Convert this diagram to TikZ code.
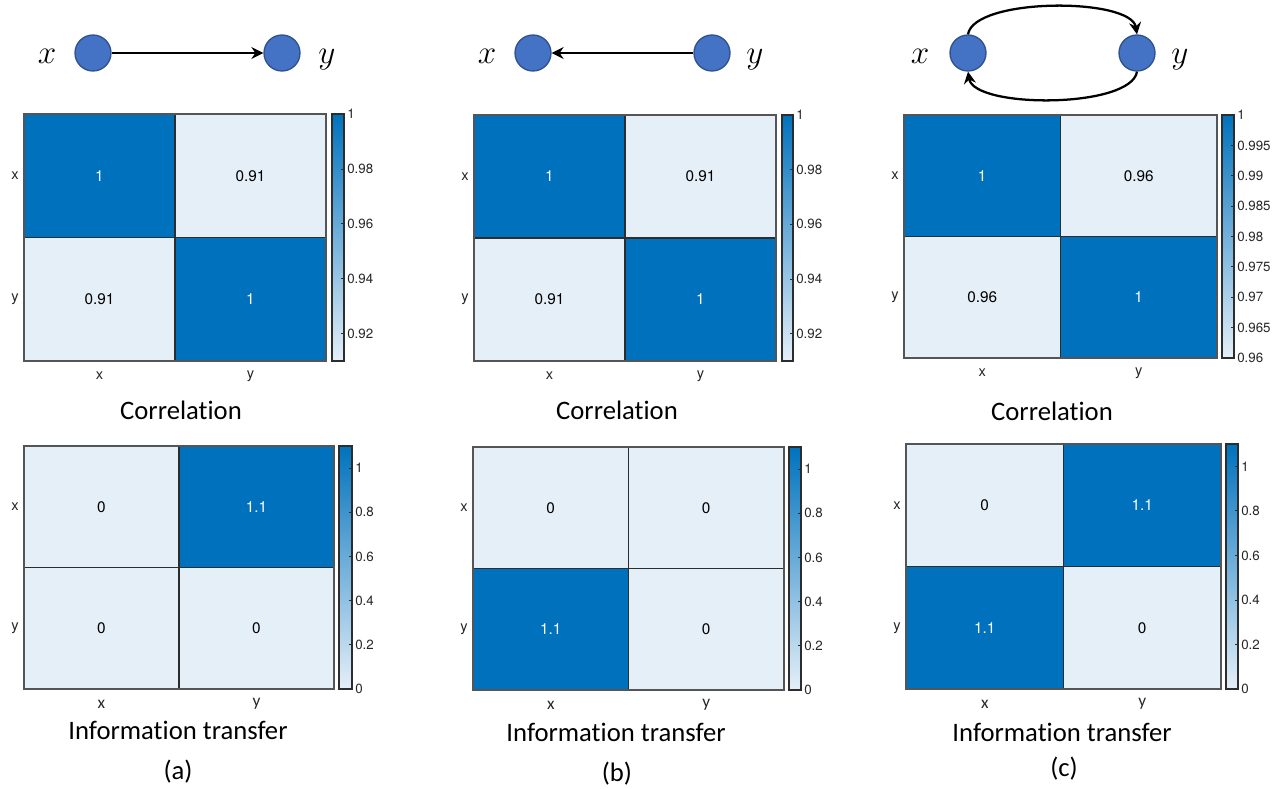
\documentclass[tikz,border=0pt]{standalone}
\usepackage{fontspec}
\newfontfamily\hvfont{TeX Gyre Heros}
\newfontfamily\cbfont[Ligatures=NoCommon]{Carlito}
\usetikzlibrary{arrows.meta}

\definecolor{hiblue}{RGB}{0,114,189}
\definecolor{loblue}{RGB}{229,239,248}
\definecolor{nodefill}{RGB}{68,114,196}
\definecolor{nodeline}{RGB}{47,82,143}
\definecolor{gridc}{RGB}{45,45,45}
\definecolor{framec}{RGB}{85,85,85}
\definecolor{labc}{RGB}{38,38,38}

\tikzset{
  vert/.style={circle, fill=nodefill, draw=nodeline, line width=1pt,
               minimum size=27pt, inner sep=0pt},
  varlab/.style={font=\fontsize{30}{30}\selectfont, inner sep=0pt, anchor=base},
  link/.style={line width=1.7pt, -{Stealth[length=9pt,width=9pt,inset=3pt]}},
  cellnum/.style={font=\hvfont\fontsize{11.5}{11.5}\selectfont, inner sep=0pt},
  hitxt/.style={cellnum, text=white},
  lotxt/.style={cellnum, text=black},
  hifill/.style={fill=hiblue},
  lofill/.style={fill=loblue},
  axlab/.style={font=\hvfont\fontsize{11}{11}\selectfont, text=labc, inner sep=0pt},
  axlabc/.style={font=\cbfont\fontsize{13}{13}\selectfont, text=labc, inner sep=0pt},
  ticklab/.style={font=\hvfont\fontsize{10}{10}\selectfont, text=labc,
                  anchor=west, inner sep=0pt},
  caption/.style={font=\cbfont\fontsize{20}{20}\selectfont, inner sep=0pt},
}

% heatmap frame: left, top, right, bottom (pixel-like units, y downwards)
\newcommand{\hmframe}[4]{%
  \def\hL{#1}\def\hT{#2}\def\hR{#3}\def\hB{#4}%
  \pgfmathsetmacro\hMx{(#1+#3)/2}\pgfmathsetmacro\hMy{(#2+#4)/2}%
  \pgfmathsetmacro\hQa{(3*#1+#3)/4}\pgfmathsetmacro\hQb{(#1+3*#3)/4}%
  \pgfmathsetmacro\hRa{(3*#2+#4)/4}\pgfmathsetmacro\hRb{(#2+3*#4)/4}}

% four cells: kind/text for (x,x) (x,y) (y,x) (y,y)
\newcommand{\hmcells}[8]{%
  \fill[#1fill] (\hL,\hT) rectangle (\hMx,\hMy);
  \fill[#3fill] (\hMx,\hT) rectangle (\hR,\hMy);
  \fill[#5fill] (\hL,\hMy) rectangle (\hMx,\hB);
  \fill[#7fill] (\hMx,\hMy) rectangle (\hR,\hB);
  \draw[gridc, line width=0.8pt] (\hMx,\hT) -- (\hMx,\hB) (\hL,\hMy) -- (\hR,\hMy);
  \draw[framec, line width=0.9pt] (\hL,\hT) rectangle (\hR,\hB);
  \node[#1txt] at (\hQa,\hRa) {#2};
  \node[#3txt] at (\hQb,\hRa) {#4};
  \node[#5txt] at (\hQa,\hRb) {#6};
  \node[#7txt] at (\hQb,\hRb) {#8};}

% axis labels; #1 = style of the labels under the map
\newcommand{\hmaxes}[1]{%
  \node[axlab] at (\hL-9,\hRa) {x};
  \node[axlab] at (\hL-9,\hRb) {y};
  \node[#1] at (\hQa,\hB+15) {x};
  \node[#1] at (\hQb,\hB+15) {y};}

% colour bar: x1, top, x2, bottom, vmin, vmax, list of value/label
\newcommand{\cbar}[7]{%
  \shade[bottom color=loblue, top color=hiblue] (#1,#2) rectangle (#3,#4);
  \draw[gridc, line width=1pt] (#1,#2) rectangle (#3,#4);
  \foreach \v/\lab in {#7} {
    \pgfmathsetmacro\yy{#4-(\v-#5)/(#6-#5)*(#4-#2)}
    \draw[gridc, line width=0.6pt] (#3,\yy) -- (#3-3,\yy);
    \node[ticklab] at (#3+3,\yy) {\lab};
  }}

\begin{document}
\begin{tikzpicture}[x=0.75pt, y=-0.75pt]
\useasboundingbox (0,0) rectangle (1286,789);

% ---------- panel (a): x -> y ----------
\node[varlab] (axl) at (47,63) {$x$};
\node[vert] (ax) at (93,53) {};
\node[vert] (ay) at (282,53) {};
\node[varlab] (ayl) at (327,63) {$y$};
\draw[link] (ax) -- (ay);

\hmframe{24}{114}{326}{361}
\hmcells{hi}{1}{lo}{0.91}{lo}{0.91}{hi}{1}
\hmaxes{axlab}
\cbar{332}{114}{344}{361}{0.91}{1}{0.92/0.92,0.94/0.94,0.96/0.96,0.98/0.98,1/1}
\node[caption] (acor) at (181,410) {Correlation};

\hmframe{24}{446}{334}{689}
\hmcells{lo}{0}{hi}{1.1}{lo}{0}{lo}{0}
\hmaxes{axlabc}
\cbar{339}{446}{352}{689}{0}{1.1}{0/0,0.2/0.2,0.4/0.4,0.6/0.6,0.8/0.8,1/1}
\node[caption] (ainf) at (178,730) {Information transfer};
\node[caption] (atag) at (178,772) {(a)};

% ---------- panel (b): y -> x ----------
\node[varlab] (bxl) at (487,63) {$x$};
\node[vert] (bx) at (533,53) {};
\node[vert] (by) at (712,53) {};
\node[varlab] (byl) at (755,63) {$y$};
\draw[link] (by) -- (bx);

\hmframe{474}{115}{776}{361}
\hmcells{hi}{1}{lo}{0.91}{lo}{0.91}{hi}{1}
\hmaxes{axlab}
\cbar{782}{115}{793}{361}{0.91}{1}{0.92/0.92,0.94/0.94,0.96/0.96,0.98/0.98,1/1}
\node[caption] (bcor) at (617,410) {Correlation};

\hmframe{473}{447}{784}{690}
\hmcells{lo}{0}{lo}{0}{hi}{1.1}{lo}{0}
\hmaxes{axlabc}
\cbar{789}{447}{801}{690}{0}{1.1}{0/0,0.2/0.2,0.4/0.4,0.6/0.6,0.8/0.8,1/1}
\node[caption] (binf) at (616,732) {Information transfer};
\node[caption] (btag) at (617,774) {(b)};

% ---------- panel (c): x <-> y ----------
\node[varlab] (cxl) at (920,63) {$x$};
\node[vert] (cx) at (968,53) {};
\node[vert] (cy) at (1137,53) {};
\node[varlab] (cyl) at (1180,63) {$y$};
\draw[link] (cx.north) .. controls +(6,-37) and +(-6,-37) .. (cy.north);
\draw[link] (cy.south) .. controls +(-6,37) and +(6,37) .. (cx.south);

\hmframe{904}{115}{1217}{358}
\hmcells{hi}{1}{lo}{0.96}{lo}{0.96}{hi}{1}
\hmaxes{axlab}
\cbar{1222}{115}{1234}{358}{0.96}{1}{0.96/0.96,0.965/0.965,0.97/0.97,0.975/0.975,0.98/0.98,0.985/0.985,0.99/0.99,0.995/0.995,1/1}
\node[caption] (ccor) at (1052,411) {Correlation};

\hmframe{906}{444}{1221}{689}
\hmcells{lo}{0}{hi}{1.1}{hi}{1.1}{lo}{0}
\hmaxes{axlabc}
\cbar{1226}{444}{1238}{689}{0}{1.1}{0/0,0.2/0.2,0.4/0.4,0.6/0.6,0.8/0.8,1/1}
\node[caption] (cinf) at (1062,732) {Information transfer};
\node[caption] (ctag) at (1064,769) {(c)};
\end{tikzpicture}
\end{document}
